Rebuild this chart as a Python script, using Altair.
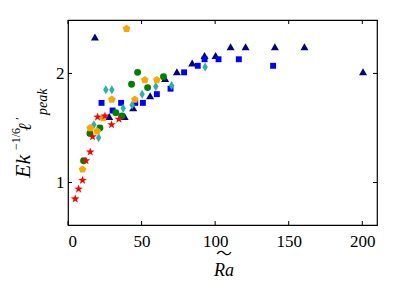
import altair as alt
import pandas as pd

# ---- data ----
tri_x = [18.3, 28.0, 38.5, 44.3, 55.8, 66.0, 74.0, 84.4, 92.8, 100.3, 110.5, 120.7, 140.6, 160.7, 200.5]
tri_y = [2.33, 1.60, 1.60, 1.68, 1.79, 1.95, 2.01, 2.09, 2.16, 2.16, 2.24, 2.24, 2.24, 2.24, 2.01]

sq_x = [22.8, 36.1, 30.3, 45.7, 50.9, 60.4, 69.7, 78.9, 88.2, 92.8, 102.3, 116.1, 139.4]
sq_y = [1.73, 1.73, 1.66, 1.73, 1.73, 1.81, 1.86, 2.01, 2.07, 2.13, 2.13, 2.13, 2.07]

dia_x = [25.7, 29.8, 37.5, 43.6, 50.4, 59.7, 70.4, 93.2, 17.6, 20.8]
dia_y = [1.85, 1.85, 1.68, 1.71, 1.81, 1.88, 1.89, 2.06, 1.53, 1.41]

circ_x = [47.3, 43.2, 54.1, 64.9, 32.5, 36.6, 21.7, 14.9, 10.6]
circ_y = [2.01, 1.90, 1.87, 1.97, 1.64, 1.61, 1.50, 1.45, 1.20]

pent_x = [39.8, 52.2, 60.4, 29.8, 45.4, 23.9, 15.1, 19.8, 9.9]
pent_y = [2.41, 1.94, 1.94, 1.76, 1.76, 1.59, 1.50, 1.47, 1.12]

star_x = [20.1, 25.1, 34.6, 29.6, 16.7, 15.1, 12.2, 9.9, 7.2, 4.9]
star_y = [1.60, 1.61, 1.58, 1.53, 1.42, 1.28, 1.20, 1.02, 0.94, 0.85]

x_ticks = [0, 50, 100, 150, 200]
y_ticks = [1, 2]

W, H = 309, 205
XDOM = [0, 210]
YDOM = [0.61, 2.49]

TRI = "M0,-1L1,0.75L-1,0.75Z"
SQ = "M-0.82,-0.82H0.82V0.82H-0.82Z"
DIA = "M0,-1L0.6,0L0,1L-0.6,0Z"
PENT = "M0,-1L0.951,-0.309L0.588,0.809L-0.588,0.809L-0.951,-0.309Z"
STAR = ("M0,-1L0.235,-0.324L0.951,-0.309L0.380,0.124L0.588,0.809L0,0.4"
        "L-0.588,0.809L-0.380,0.124L-0.951,-0.309L-0.235,-0.324Z")

xs = alt.Scale(domain=XDOM, nice=False, zero=False)
ys = alt.Scale(domain=YDOM, nice=False, zero=False)

SERIF = "Liberation Serif"


def series(xv, yv, shape, color, size):
    df = pd.DataFrame({"x": xv, "y": yv})
    return alt.Chart(df).mark_point(
        shape=shape, filled=True, color=color, size=size, opacity=1, strokeWidth=0
    ).encode(
        x=alt.X("x:Q", scale=xs,
                axis=alt.Axis(values=x_ticks, format="d", ticks=False, domain=False, grid=False,
                              labelFont=SERIF, labelFontSize=17, labelColor="black",
                              labelPadding=8, title="")),
        y=alt.Y("y:Q", scale=ys,
                axis=alt.Axis(values=y_ticks, format="d", ticks=False, domain=False, grid=False,
                              labelFont=SERIF, labelFontSize=17, labelColor="black",
                              labelPadding=4, title="")),
    )


layers = [
    series(tri_x, tri_y, TRI, "#000080", 64),
    series(sq_x, sq_y, SQ, "#0000ff", 52),
    series(dia_x, dia_y, DIA, "#26b3b0", 81),
    series(circ_x, circ_y, "circle", "#008000", 48),
    series(pent_x, pent_y, PENT, "#ffa500", 64),
    series(star_x, star_y, STAR, "#ff0000", 81),
]

# inward ticks on all four sides
xt = pd.DataFrame({"v": x_ticks})
yt = pd.DataFrame({"v": y_ticks})
tick_layers = [
    alt.Chart(xt).mark_rule(color="black", strokeWidth=1).encode(
        x=alt.X("v:Q", scale=xs), y=alt.value(H), y2=alt.value(H - 4)),
    alt.Chart(xt).mark_rule(color="black", strokeWidth=1).encode(
        x=alt.X("v:Q", scale=xs), y=alt.value(0), y2=alt.value(4)),
    alt.Chart(yt).mark_rule(color="black", strokeWidth=1).encode(
        y=alt.Y("v:Q", scale=ys), x=alt.value(0), x2=alt.value(4)),
    alt.Chart(yt).mark_rule(color="black", strokeWidth=1).encode(
        y=alt.Y("v:Q", scale=ys), x=alt.value(W), x2=alt.value(W - 4)),
]

one = alt.Data(values=[{"a": 1}])


def txt(s, x, y, size, italic=False, angle=0, align="left", baseline="alphabetic", font=SERIF):
    kw = dict(fontSize=size, font=font, color="black", align=align, baseline=baseline)
    if italic:
        kw["fontStyle"] = "italic"
    if angle:
        kw["angle"] = angle
    return alt.Chart(one).mark_text(**kw).encode(
        x=alt.value(x), y=alt.value(y), text=alt.value(s))


# plot origin sits at page (68, 20)
title_layers = [
    # y title: Ek^{-1/6} l'_{peak}, read bottom-to-top
    txt("Ek", -38, 158, 22, italic=True, angle=270),
    txt("\u22121/6", -48, 130, 12, angle=270),
    txt("\u2113", -37, 111, 18, italic=True, angle=270, font="DejaVu Serif"),
    txt("\u2032", -44, 100, 13, angle=270),
    txt("peak", -21, 95, 14, italic=True, angle=270),
    # x title: Ra with wide tilde
    txt("Ra", 156, 256, 18, italic=True, align="center"),
    txt("\u301c", 156, 234, 16, align="center", baseline="middle", font="Noto Sans CJK JP"),
]

chart = alt.layer(*layers, *tick_layers, *title_layers).properties(
    width=W, height=H,
    autosize=alt.AutoSizeParams(type="none"),
    padding={"left": 60, "top": 12, "right": 10, "bottom": 60},
).configure(
    background="white",
    view=alt.ViewConfig(stroke="black", strokeWidth=1.2),
)

chart.save("out.html", embed_options={"renderer": "svg", "actions": False})
